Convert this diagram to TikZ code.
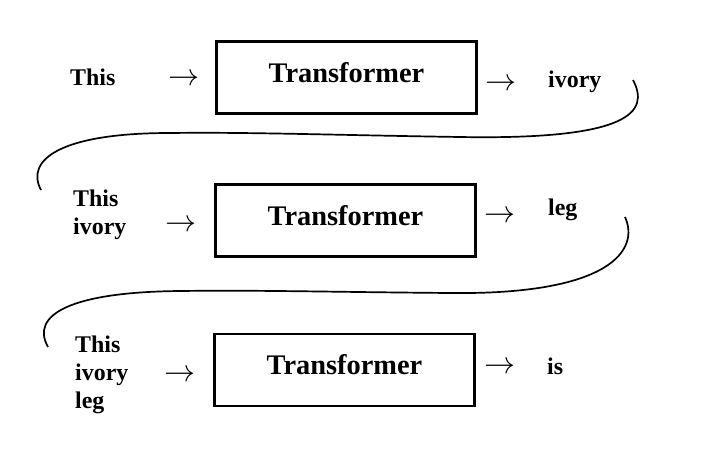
\documentclass[tikz,border=0pt]{standalone}
\usepackage{fontspec}
\setmainfont{Liberation Serif}
\usetikzlibrary{positioning}

\newcommand{\feedarrow}{\scalebox{1.25}{$\rightarrow$}}

\begin{document}
\begin{tikzpicture}[x=1bp,y=1bp,
	wordtext/.style={font=\fontsize{24}{28}\selectfont\bfseries,inner sep=0pt,align=left},
	tfbox/.style={draw,line width=2.6bp,minimum width=260bp,minimum height=72bp,
		font=\fontsize{28.5}{32}\selectfont\bfseries,text height=19.5bp,text depth=10bp},
	arrowtext/.style={font=\fontsize{24.88}{30}\selectfont,inner sep=0pt,yshift=-3bp},
	wrapline/.style={line width=1.7bp}]
	\useasboundingbox (0bp,0bp) rectangle (717bp,-457bp);

	\node[tfbox] (T1) at (346.5bp,-77.5bp)  {Transformer};
	\node[tfbox] (T2) at (345.5bp,-220.5bp) {Transformer};
	\node[tfbox] (T3) at (344.5bp,-370bp)   {Transformer};

	\node[wordtext,anchor=base west]  (in1) at (70bp,-85bp)     {This};
	\node[wordtext,anchor=north west] (in2) at (73bp,-189.8bp)  {This\\ivory};
	\node[wordtext,anchor=north west] (in3) at (75bp,-335.8bp)  {This\\ivory\\leg};

	\node[wordtext,anchor=base west] (out1) at (548bp,-87bp)  {ivory};
	\node[wordtext,anchor=base west] (out2) at (548bp,-215bp) {leg};
	\node[wordtext,anchor=base west] (out3) at (547bp,-374bp) {is};

	\node[arrowtext] (a1) at (184bp,-77bp)     {\feedarrow};
	\node[arrowtext] (b1) at (500.5bp,-81.5bp) {\feedarrow};
	\node[arrowtext] (a2) at (181bp,-223bp)    {\feedarrow};
	\node[arrowtext] (b2) at (500bp,-214bp)    {\feedarrow};
	\node[arrowtext] (a3) at (180bp,-373bp)    {\feedarrow};
	\node[arrowtext] (b3) at (500bp,-365bp)    {\feedarrow};

	% output fed back as next input
	\coordinate (w1s) at (633bp,-80bp);
	\coordinate (w1e) at (41bp,-190bp);
	\coordinate (w2s) at (625bp,-217bp);
	\coordinate (w2e) at (48bp,-347bp);

	\draw[wrapline] (w1s) .. controls (650bp,-112bp) and (630bp,-140bp) .. (460bp,-137bp)
		.. controls (330bp,-135bp) and (250bp,-132bp) .. (170bp,-133bp)
		.. controls (60bp,-133bp) and (25bp,-160bp) .. (w1e);
	\draw[wrapline] (w2s) .. controls (640bp,-250bp) and (610bp,-295bp) .. (450bp,-293bp)
		.. controls (330bp,-292bp) and (260bp,-290bp) .. (180bp,-291bp)
		.. controls (70bp,-292bp) and (30bp,-315bp) .. (w2e);
\end{tikzpicture}
\end{document}
